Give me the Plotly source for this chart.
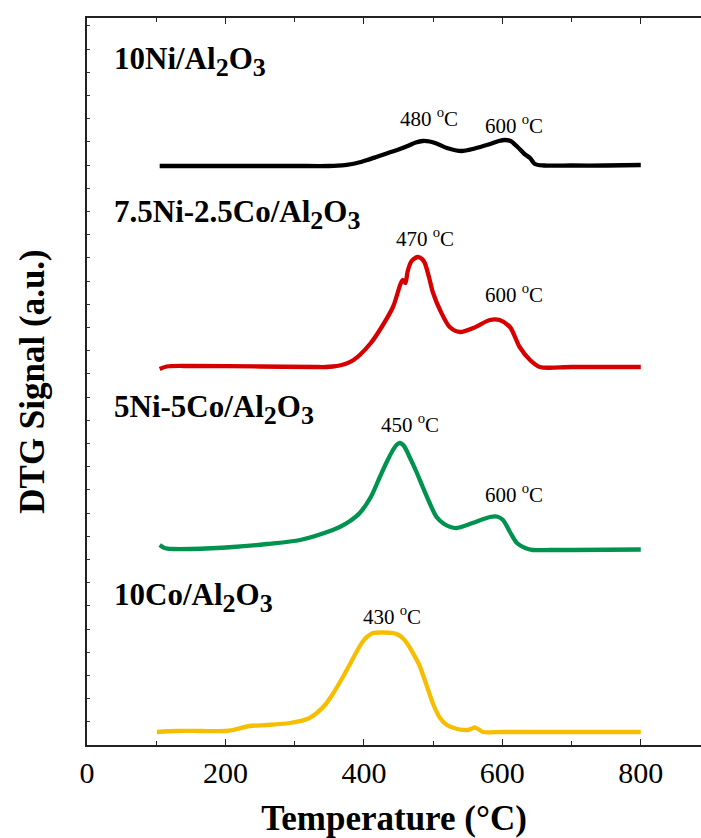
import plotly.graph_objects as go

# Temperature (°C) sampling of each DTG trace
temp_ni = [105, 200, 300, 350, 362, 375, 390, 405, 420, 435, 450, 465, 475, 485, 495, 505, 520, 541, 560, 580, 595, 604, 612, 622, 632, 640, 647, 660, 700, 750, 800]
dtg_ni = [0, 0, 0, 0, 0.3, 1.2, 3, 6, 9.5, 13, 16.5, 20.5, 23.5, 25, 24.5, 22.5, 18, 15, 17.5, 21.5, 25, 26, 25, 19, 12, 8, 2, 0.5, 0.5, 0.5, 1]

temp_nico75 = [105, 115, 150, 250, 330, 345, 355, 365, 375, 385, 394, 410, 423, 442, 456, 460, 463, 468, 472, 478, 484, 488, 494, 500, 510, 524, 539, 558, 582, 596, 611, 625, 640, 654, 700, 800]
dtg_nico75 = [-2, 0.5, 1, 0.5, 0, 0, 0.5, 1.5, 3.5, 7, 12, 24, 37, 60, 87, 84, 95, 105, 108, 110, 108, 104, 90, 74, 57, 40, 35, 39, 47, 47, 40, 20, 7, 0, 0, 0]

temp_nico55 = [105, 112, 124, 150, 211, 260, 308, 355, 365, 380, 394, 410, 423, 433, 442, 447, 452, 458, 466, 476, 485, 495, 505, 515, 525, 534, 557, 582, 592, 601, 611, 621, 633, 644, 669, 700, 800]
dtg_nico55 = [4, 1, 0, 0, 2, 5, 9, 19, 22, 28, 36, 52, 72, 87, 99, 104, 106, 103, 92, 77, 62, 46, 32, 25.5, 22, 21, 26, 32, 32.5, 29, 17, 6, 1, -1, -1, -1, -0.5]

temp_co = [101, 130, 163, 200, 211, 235, 260, 293, 320, 332, 345, 355, 368, 380, 390, 399, 406, 413, 428, 442, 450, 456, 463, 470, 480, 490, 500, 510, 520, 535, 550, 556, 560, 566, 572, 600, 700, 800]
dtg_co = [0, 1, 1, 1, 2, 6, 7, 9, 13.5, 19, 28, 38, 53, 68, 81, 91, 96, 99, 99.5, 99, 97, 94, 88, 80, 67, 48, 28, 14, 7, 3, 2, 3.5, 4.5, 2.5, 0, 0, 0, 0]

# Sample names and vertical stacking offsets (a.u.)
samples = [("10Ni/Al", "O"), ("7.5Ni-2.5Co/Al", "O"), ("5Ni-5Co/Al", "O"), ("10Co/Al", "O")]
offsets = [579, 378, 196, 13]
colors = ["#000000", "#d60000", "#00924f", "#f5be00"]
label_y = [684, 531, 336, 148]

# Peak temperature labels: (x, y, text)
peak_x = [494, 617, 488, 617, 467, 617, 441]
peak_y = [628, 621, 508, 452, 322, 252, 130]
peak_txt = ["480", "600", "470", "600", "450", "600", "430"]

curves = [(temp_ni, dtg_ni), (temp_nico75, dtg_nico75), (temp_nico55, dtg_nico55), (temp_co, dtg_co)]

FONT = "Liberation Serif"
LABEL_SIZE = 31
SUB = "<sub><span style='font-size:26px'>{}</span></sub>"


def formula(head, tail):
    return "<b>" + head + SUB.format("2") + tail + SUB.format("3") + "</b>"


fig = go.Figure()
for (tx, ty), off, col, (h, t) in zip(curves, offsets, colors, samples):
    fig.add_trace(go.Scatter(
        x=tx, y=[v + off for v in ty], mode="lines", name=h + "2" + t + "3",
        line=dict(color=col, width=4.3, shape="spline", smoothing=0.8),
        showlegend=False, hoverinfo="skip"))

for (h, t), ly in zip(samples, label_y):
    fig.add_annotation(x=36, y=ly, text=formula(h, t), showarrow=False,
                       xanchor="left", yanchor="middle",
                       font=dict(family=FONT, size=LABEL_SIZE, color="black"))

for px_, py_, t in zip(peak_x, peak_y, peak_txt):
    fig.add_annotation(x=px_, y=py_, text=t + " <sup>o</sup>C", showarrow=False,
                       xanchor="center", yanchor="middle",
                       font=dict(family=FONT, size=21, color="black"))

fig.update_layout(
    width=701, height=838,
    margin=dict(l=87, r=0, t=18, b=93),
    plot_bgcolor="white", paper_bgcolor="white",
    font=dict(family=FONT, color="black"),
    xaxis=dict(
        range=[0, 887], tick0=0, dtick=200,
        ticks="inside", ticklen=6, tickwidth=1.2, tickcolor="#222",
        minor=dict(dtick=100, ticks="inside", ticklen=4, tickwidth=1.2, tickcolor="#222"),
        showline=True, linecolor="#222", linewidth=1.8, mirror="allticks",
        showgrid=False, zeroline=False,
        tickfont=dict(family=FONT, size=30, color="black"),
        title=dict(text="<b>Temperature (°C)</b>", font=dict(family=FONT, size=35, color="black"), standoff=18),
        automargin=False,
    ),
    yaxis=dict(
        range=[0, 727], tick0=0, dtick=23.2,
        ticks="inside", ticklen=3, tickwidth=1, tickcolor="#333",
        showticklabels=False,
        showline=True, linecolor="#222", linewidth=1.8, mirror=False,
        showgrid=False, zeroline=False,
        title=dict(text="<b>DTG Signal (a.u.)</b>", font=dict(family=FONT, size=35, color="black"), standoff=30),
        automargin=False,
    ),
)

fig.write_html("out.html")
